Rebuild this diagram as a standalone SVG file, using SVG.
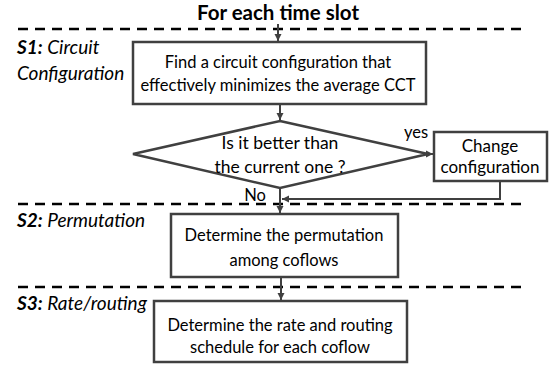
<svg xmlns="http://www.w3.org/2000/svg" width="549" height="365" viewBox="0 0 549 365">
<defs>
<style>
.box{fill:#fff;stroke:#404040;stroke-width:2.5}
.dash{stroke:#000;stroke-width:2.5;stroke-dasharray:10 7;fill:none}
.con{stroke:#404040;stroke-width:2;fill:none}
.t{font-family:Lato,"Liberation Sans",sans-serif;font-size:16.5px;fill:#000;text-anchor:middle}
.s{font-family:Lato,"Liberation Sans",sans-serif;font-size:19px;font-style:italic;fill:#000}
.b{font-weight:bold}
.title{font-family:Lato,"Liberation Sans",sans-serif;font-size:20.5px;font-weight:bold;text-anchor:middle}
</style>
<marker id="ah" markerWidth="8" markerHeight="8" refX="7" refY="4" orient="auto" markerUnits="userSpaceOnUse">
<path d="M0,0.5 L7,4 L0,7.5 Z" fill="#404040"/>
</marker>
</defs>
<rect width="549" height="365" fill="#fff"/>
<text class="title" x="278" y="20">For each time slot</text>
<g id="separators">
<line class="dash" x1="18" y1="29" x2="527" y2="29"/>
<line class="dash" x1="18" y1="204" x2="527" y2="204"/>
<line class="dash" x1="18" y1="287" x2="527" y2="287"/>
</g>
<g id="labels">
<text class="s" x="17" y="54"><tspan class="b">S1:</tspan> Circuit</text>
<text class="s" x="17" y="80">Configuration</text>
<text class="s" x="17" y="227"><tspan class="b">S2:</tspan> Permutation</text>
<text class="s" x="17" y="310"><tspan class="b">S3:</tspan> Rate/routing</text>
</g>
<g id="connectors">
<line class="con" x1="278" y1="24" x2="278" y2="41" marker-end="url(#ah)"/>
<line class="con" x1="280" y1="104" x2="280" y2="120" marker-end="url(#ah)"/>
<line class="con" x1="428" y1="154" x2="433" y2="154" marker-end="url(#ah)"/>
<polyline class="con" points="500,181 500,199 282,199" marker-end="url(#ah)"/>
<line class="con" x1="280" y1="188" x2="280" y2="213" marker-end="url(#ah)"/>
<line class="con" x1="281" y1="277" x2="281" y2="300" marker-end="url(#ah)"/>
<text class="t" x="255" y="201" style="font-size:16.5px">No</text>
<text class="t" x="416" y="138" style="font-size:16.5px">yes</text>
</g>
<g id="n1">
<rect class="box" x="133" y="42" width="293" height="62"/>
<text class="t" x="278" y="68">Find a circuit configuration that</text>
<text class="t" x="278" y="91">effectively minimizes the average CCT</text>
</g>
<g id="n2">
<polygon class="box" points="280,121 428,154 280,188 133,154"/>
<text class="t" x="280" y="149" style="font-size:17.5px">Is it better than</text>
<text class="t" x="280" y="173" style="font-size:17.5px">the current one ?</text>
</g>
<g id="n3">
<rect class="box" x="434" y="132" width="113" height="49"/>
<text class="t" x="490" y="152" style="font-size:17px">Change</text>
<text class="t" x="490" y="173" style="font-size:17px">configuration</text>
</g>
<g id="n4">
<rect class="box" x="171" y="214" width="227" height="63"/>
<text class="t" x="284" y="241">Determine the permutation</text>
<text class="t" x="284" y="266">among coflows</text>
</g>
<g id="n5">
<rect class="box" x="154" y="301" width="253" height="61"/>
<text class="t" x="280" y="331">Determine the rate and routing</text>
<text class="t" x="280" y="353">schedule for each coflow</text>
</g>
</svg>
